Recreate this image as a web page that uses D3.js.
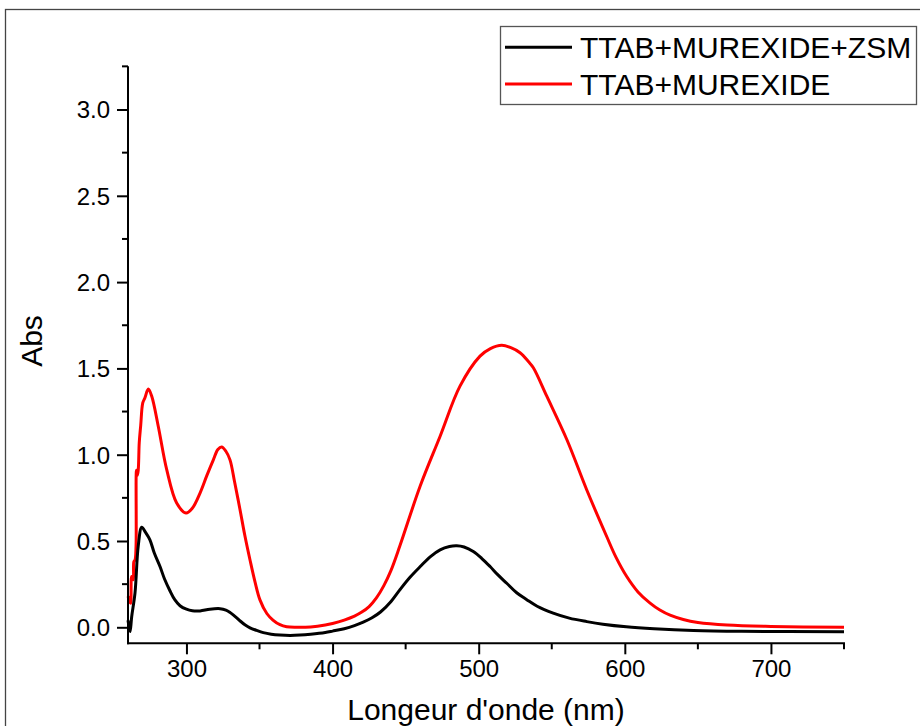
<!DOCTYPE html>
<html>
<head>
<meta charset="utf-8">
<script src="https://cdn.jsdelivr.net/npm/d3@7"></script>
<style>
    body { margin: 0; background: #fff; }
    svg { display: block; font-family: "Liberation Sans", Arial, sans-serif; }
</style>
</head>
<body>
<svg id="chart" width="920" height="726"></svg>
<script>
// TTAB+MUREXIDE+ZSM (black)
const wl_black = [260, 261.4, 262.5, 264.8, 267, 269.4, 272, 275, 278, 281.9, 285, 288.7, 292, 295.6, 300, 304, 309.3, 316, 323, 327, 330, 334.4, 337, 340, 343.5, 348, 352.6, 358, 364, 371, 377.7, 385, 395, 400, 408, 415, 421, 427, 433, 440, 446, 453, 460, 467, 473.6, 480, 485, 490, 496.3, 502, 507.8, 513, 519.2, 526, 532.9, 540, 551, 562, 574, 585, 601, 620, 647, 680, 750];
const abs_black = [0.04, -0.025, 0.06, 0.2, 0.47, 0.58, 0.55, 0.507, 0.43, 0.352, 0.28, 0.212, 0.16, 0.125, 0.105, 0.096, 0.095, 0.105, 0.108, 0.1, 0.085, 0.055, 0.035, 0.015, -0.003, -0.018, -0.031, -0.04, -0.045, -0.047, -0.045, -0.04, -0.03, -0.022, -0.008, 0.01, 0.03, 0.055, 0.09, 0.15, 0.217, 0.29, 0.352, 0.41, 0.449, 0.468, 0.472, 0.465, 0.439, 0.4, 0.352, 0.305, 0.255, 0.2, 0.16, 0.122, 0.082, 0.053, 0.033, 0.018, 0.003, -0.008, -0.018, -0.023, -0.026];

// TTAB+MUREXIDE (red)
const wl_red = [260, 260.9, 261.8, 262.5, 263.6, 264, 264.8, 265.5, 265.8, 266.4, 267, 267.7, 268.7, 270.1, 271.6, 273.9, 276.2, 280.7, 286.5, 293.3, 299.7, 304, 309.3, 314, 318.4, 321.5, 324.1, 327, 329.8, 333, 336.7, 340, 343.5, 347, 350.3, 355, 359.2, 364, 368.6, 375, 385, 395, 400, 408, 415, 420, 425, 430, 435, 440, 446.2, 459.9, 473.6, 487.2, 500.9, 508, 515.8, 522, 528.3, 534, 537.4, 546.6, 560.3, 573.9, 587.6, 594, 601.3, 609, 617.3, 624, 631, 640, 650, 670, 700, 750];
const abs_red = [0.18, 0.159, 0.139, 0.294, 0.275, 0.38, 0.39, 0.47, 0.91, 0.88, 0.91, 1.07, 1.17, 1.3, 1.33, 1.38, 1.34, 1.165, 0.913, 0.72, 0.662, 0.69, 0.778, 0.88, 0.97, 1.03, 1.045, 1.02, 0.97, 0.84, 0.68, 0.53, 0.39, 0.26, 0.159, 0.08, 0.042, 0.015, 0.003, 0.0, 0.002, 0.013, 0.022, 0.042, 0.065, 0.088, 0.12, 0.17, 0.24, 0.33, 0.475, 0.817, 1.107, 1.397, 1.571, 1.615, 1.634, 1.62, 1.591, 1.54, 1.504, 1.339, 1.088, 0.797, 0.526, 0.405, 0.294, 0.205, 0.14, 0.1, 0.07, 0.045, 0.028, 0.013, 0.005, 0.0];

const series_names = ["TTAB+MUREXIDE+ZSM", "TTAB+MUREXIDE"];
const series_colors = ["#000000", "#ff0000"];

const x_ticks = [300, 400, 500, 600, 700];
const x_minor = [350, 450, 550, 650, 750];
const y_ticks = [0, 0.5, 1, 1.5, 2, 2.5, 3];
const y_minor = [0.25, 0.75, 1.25, 1.75, 2.25, 2.75, 3.25];

const svg = d3.select("#chart");

const plot_left = 128, plot_right = 844;
const x_scale = d3.scaleLinear().domain([260, 750]).range([plot_left, plot_right]);
const y_scale = d3.scaleLinear().domain([0, 3]).range([627.3, 109.5]);
const y_bottom = 643.3;
const y_top = y_scale(3.25);

// outer frame
svg.append("rect")
    .attr("x", 5.5).attr("y", 9.5)
    .attr("width", 930).attr("height", 740)
    .attr("fill", "none")
    .attr("stroke", "#444")
    .attr("stroke-width", 1.3);

// curves
const line = d3.line()
    .x(d => x_scale(d[0]))
    .y(d => y_scale(d[1]))
    .curve(d3.curveCatmullRom.alpha(0.5));

const series = [
    d3.zip(wl_black, abs_black),
    d3.zip(wl_red, abs_red)
];

// red drawn first so black sits on top where they touch
[1, 0].forEach(i => {
    svg.append("path")
        .datum(series[i])
        .attr("d", line)
        .attr("fill", "none")
        .attr("stroke", series_colors[i])
        .attr("stroke-width", 3)
        .attr("stroke-linejoin", "round");
});

// axes
const x_axis_g = svg.append("g").attr("transform", `translate(0,${y_bottom})`);
x_axis_g.call(d3.axisBottom(x_scale).tickValues(x_ticks).tickSize(11).tickSizeOuter(0).tickFormat(d3.format("d")));
x_axis_g.append("g").selectAll("line")
    .data(x_minor)
    .enter()
    .append("line")
    .attr("x1", d => x_scale(d)).attr("x2", d => x_scale(d))
    .attr("y1", 0).attr("y2", 6)
    .attr("stroke", "#000").attr("stroke-width", 2);

const y_axis_g = svg.append("g").attr("transform", `translate(${plot_left},0)`);
y_axis_g.call(d3.axisLeft(y_scale).tickValues(y_ticks).tickSize(11).tickSizeOuter(0).tickFormat(d3.format(".1f")));
y_axis_g.append("g").selectAll("line")
    .data(y_minor)
    .enter()
    .append("line")
    .attr("x1", 0).attr("x2", -6)
    .attr("y1", d => y_scale(d)).attr("y2", d => y_scale(d))
    .attr("stroke", "#000").attr("stroke-width", 2);

// domain paths span the full frame, not only the tick range
x_axis_g.select(".domain").attr("d", `M${plot_left - 1},0H${plot_right + 1}`);
y_axis_g.select(".domain").attr("d", `M0,${y_top}V${y_bottom + 1}`);

[x_axis_g, y_axis_g].forEach(g => {
    g.selectAll(".domain").attr("stroke", "#000").attr("stroke-width", 2);
    g.selectAll(".tick line").attr("stroke", "#000").attr("stroke-width", 2);
    g.selectAll(".tick text")
        .attr("fill", "#000")
        .style("font-size", "24px")
        .style("font-family", "'Liberation Sans', Arial, sans-serif");
});
x_axis_g.selectAll(".tick text").attr("y", 17).attr("dy", "0.71em");
y_axis_g.selectAll(".tick text").attr("x", -18).attr("dy", "0.35em");

// axis titles
svg.append("text")
    .attr("x", (plot_left + plot_right) / 2)
    .attr("y", 720)
    .attr("text-anchor", "middle")
    .style("font-size", "30px")
    .text("Longeur d'onde (nm)");

svg.append("text")
    .attr("transform", "translate(42,341) rotate(-90)")
    .attr("text-anchor", "middle")
    .style("font-size", "30px")
    .text("Abs");

// legend
const legend = svg.append("g");
legend.append("rect")
    .attr("x", 500.5).attr("y", 26.5)
    .attr("width", 416).attr("height", 78)
    .attr("fill", "#fff")
    .attr("stroke", "#555")
    .attr("stroke-width", 1.3);

const legend_rows = legend.selectAll("g.row")
    .data(series_names)
    .enter()
    .append("g")
    .attr("class", "row")
    .attr("transform", (d, i) => `translate(0,${47.3 + i * 36.7})`);

legend_rows.append("line")
    .attr("x1", 505).attr("x2", 572)
    .attr("y1", 0).attr("y2", 0)
    .attr("stroke", (d, i) => series_colors[i])
    .attr("stroke-width", 3);

legend_rows.append("text")
    .attr("x", 580)
    .attr("y", 11)
    .style("font-size", "30px")
    .text(d => d);
</script>
</body>
</html>
